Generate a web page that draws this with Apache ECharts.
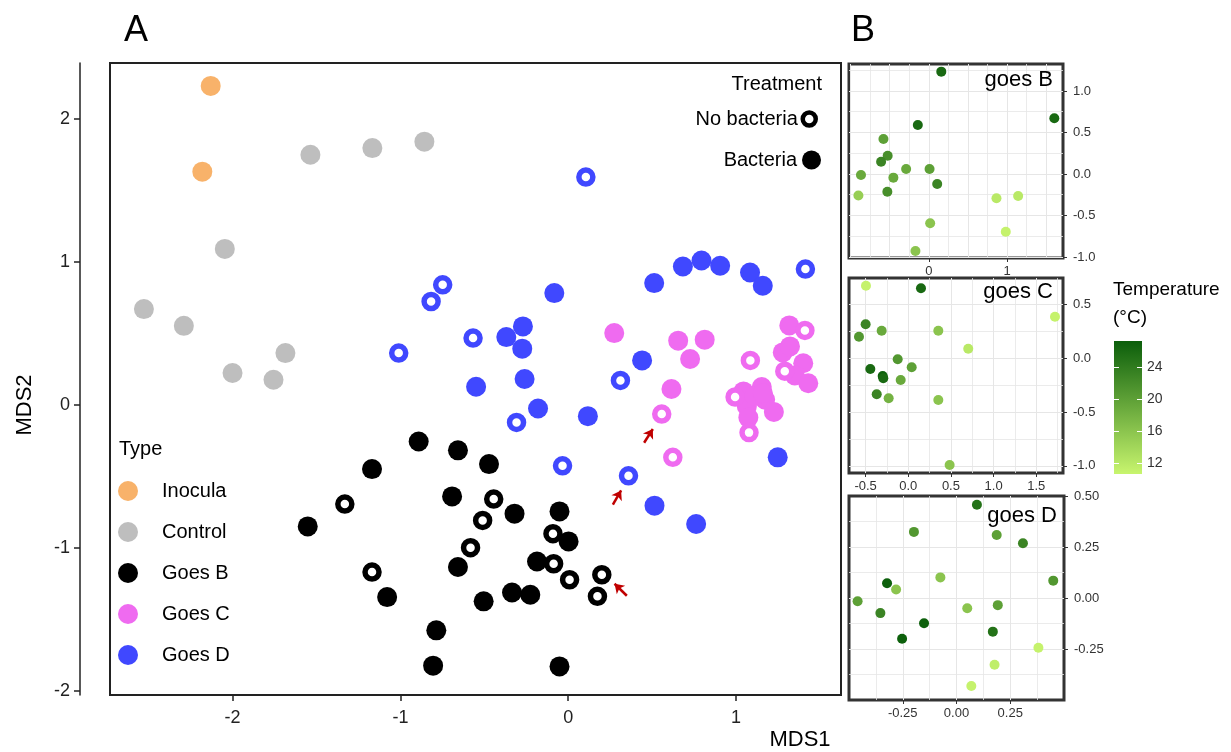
<!DOCTYPE html>
<html><head><meta charset="utf-8">
<script src="https://cdn.jsdelivr.net/npm/echarts@6/dist/echarts.min.js"></script>
<style>html,body{margin:0;padding:0;background:#fff}#chart{width:1231px;height:752px}</style>
</head><body><div id="chart"></div>
<script>
// ---------- Panel A data (MDS1, MDS2) ----------
const inocula = [[-2.13,2.23],[-2.18,1.63]];
const control = [[-1.536,1.748],[-1.167,1.795],[-0.857,1.84],[-2.046,1.09],[-2.528,0.669],[-2.29,0.552],[-1.685,0.361],[-2.0,0.222],[-1.756,0.175]];
const goesBFilled = [[-0.891,-0.257],[-0.657,-0.319],[-1.169,-0.45],[-0.692,-0.641],[-1.552,-0.851],[-1.079,-1.345],[-0.657,-1.135],[-0.786,-1.578],[-0.805,-1.825],[-0.472,-0.415],[-0.32,-0.762],[-0.052,-0.746],[0.002,-0.956],[-0.186,-1.096],[-0.335,-1.313],[-0.226,-1.329],[-0.504,-1.375],[-0.052,-1.83]];
const goesBOpen = [[-1.331,-0.695],[-1.169,-1.17],[-0.444,-0.66],[-0.51,-0.809],[-0.091,-0.902],[-0.582,-1.0],[-0.087,-1.112],[0.008,-1.224],[0.2,-1.189],[0.174,-1.34]];
const goesCFilled = [[0.274,0.501],[0.655,0.448],[0.813,0.455],[0.726,0.32],[0.615,0.11],[1.317,0.555],[1.278,0.366],[1.321,0.408],[1.4,0.29],[1.35,0.205],[1.43,0.15],[1.044,0.093],[1.153,0.124],[1.064,-0.012],[1.173,0.035],[1.225,-0.05],[1.073,-0.09],[1.11,0.06],[1.16,0.08]];
const goesCOpen = [[0.557,-0.065],[0.623,-0.368],[1.085,0.31],[1.41,0.52],[1.29,0.235],[0.994,0.054],[1.077,-0.195]];
const goesDFilled = [[-0.083,0.781],[-0.27,0.548],[-0.369,0.473],[-0.274,0.392],[-0.26,0.18],[-0.549,0.126],[-0.18,-0.026],[0.117,-0.08],[0.512,0.851],[0.683,0.967],[0.794,1.009],[0.905,0.972],[1.083,0.925],[1.159,0.832],[0.44,0.31],[1.248,-0.368],[0.514,-0.706],[0.762,-0.834]];
const goesDOpen = [[-0.748,0.839],[-0.817,0.722],[-1.01,0.361],[-0.567,0.466],[-0.308,-0.124],[0.105,1.592],[1.413,0.949],[0.311,0.17],[-0.034,-0.427],[0.359,-0.497]];
// red arrows: [x1, y1, x2, y2] in MDS units
const arrows = [[0.452,-0.266,0.504,-0.17],[0.266,-0.699,0.315,-0.599],[0.349,-1.336,0.276,-1.252]];
const typeNames = ['Inocula','Control','Goes B','Goes C','Goes D'];
const treatNames = ['No bacteria','Bacteria'];
const axisATicksX = [-2,-1,0,1];
const axisATicksY = [-2,-1,0,1,2];

// ---------- Panel B data (x, y, temperature °C) ----------
const subB = [[0.159,1.233,26],[1.603,0.671,26],[-0.141,0.59,26],[-0.58,0.422,20],[-0.526,0.22,22],[-0.61,0.148,23],[-0.29,0.06,19],[0.009,0.06,20],[-0.867,-0.012,19],[-0.453,-0.044,19],[0.107,-0.12,23],[-0.9,-0.26,15],[-0.53,-0.213,22],[0.864,-0.293,12],[1.141,-0.265,12],[0.017,-0.594,16],[0.983,-0.695,11],[-0.171,-0.928,16]];
const subC = [[-0.496,0.675,11],[0.149,0.651,26],[1.72,0.387,11],[-0.5,0.316,23],[-0.312,0.257,19],[-0.578,0.201,21],[0.352,0.257,16],[0.703,0.089,12],[-0.124,-0.009,21],[0.04,-0.084,20],[-0.445,-0.1,26],[-0.3,-0.165,27],[-0.293,-0.186,26],[-0.089,-0.202,19],[-0.37,-0.335,23],[-0.23,-0.372,18],[0.352,-0.388,16],[0.485,-0.993,16]];
const subD = [[0.095,0.457,25],[-0.198,0.324,21],[0.187,0.309,20],[0.309,0.268,23],[0.45,0.085,21],[-0.075,0.101,16],[-0.323,0.072,27],[-0.281,0.042,16],[-0.46,-0.016,20],[-0.354,-0.074,23],[0.05,-0.05,16],[0.192,-0.035,20],[-0.151,-0.124,27],[0.169,-0.165,25],[-0.253,-0.2,27],[0.381,-0.244,11],[0.177,-0.327,11.5],[0.069,-0.431,11]];
const subBTicksX = [0,1], subBTicksY = [-1,-0.5,0,0.5,1];
const subCTicksX = [-0.5,0,0.5,1,1.5], subCTicksY = [-1,-0.5,0,0.5];
const subDTicksX = [-0.25,0,0.25], subDTicksY = [-0.25,0,0.25,0.5];
const tempTicks = [12,16,20,24];
const tempRange = [10.7, 27.2];

// ---------- styles ----------
const FONT = '"Liberation Sans", Arial, sans-serif';
const COL = {'Inocula':'#F8B26A','Control':'#BEBEBE','Goes B':'#000000','Goes C':'#EF6BF0','Goes D':'#4048FF'};
const LOW = '#C8F56E', HIGH = '#0B5E0B';
const GRIDCOL = '#E6E6E6';

const chart = echarts.init(document.getElementById('chart'));

function fmt(v, d){ return d === 0 ? String(Math.round(v)) : v.toFixed(d); }
function visAxis(dim, gi, min, max, ticks, digits, pos){
  return {type:'value', gridIndex:gi, min, max, position:pos,
    axisLine:{show:false, onZero:false}, splitLine:{show:false},
    axisTick:{show:true, customValues:ticks, length:4, lineStyle:{color:'#333', width:1}},
    axisLabel:{customValues:ticks, formatter:v=>fmt(v,digits), fontSize:13, color:'#333', fontFamily:FONT, margin: dim==='x'?7:10}};
}
function gridAxis(gi, min, max, pos, opt){
  return Object.assign({type:'value', gridIndex:gi, min, max, position:pos,
    axisLine:{show:false, onZero:false}, axisTick:{show:false}, axisLabel:{show:false},
    splitLine:{show:true, showMinLine:false, showMaxLine:false, lineStyle:{color:GRIDCOL, width:1}},
    minorTick:{show:false, splitNumber:2},
    minorSplitLine:{show:true, lineStyle:{color:GRIDCOL, width:0.8}}}, opt);
}

const grids = [
  {left:110, top:63, width:731, height:632, show:true, borderColor:'#222', borderWidth:2, backgroundColor:'#fff'},
  {left:849, top:64, width:214, height:194, show:true, borderColor:'#333', borderWidth:3, backgroundColor:'#fff'},
  {left:849, top:278, width:214, height:195, show:true, borderColor:'#333', borderWidth:3, backgroundColor:'#fff'},
  {left:849, top:496, width:215, height:204, show:true, borderColor:'#333', borderWidth:3, backgroundColor:'#fff'},
  {left:1114, top:341, width:28, height:133, show:true, borderWidth:0,
   backgroundColor:new echarts.graphic.LinearGradient(0,0,0,1,[{offset:0,color:HIGH},{offset:1,color:LOW}])}
];

const xAxes = [
  {type:'value', gridIndex:0, min:-2.73, max:1.625, position:'bottom',
   axisLine:{show:false, onZero:false}, splitLine:{show:false},
   axisTick:{customValues:axisATicksX, length:6, lineStyle:{color:'#222', width:1.5}},
   axisLabel:{customValues:axisATicksX, fontSize:18, color:'#222', fontFamily:FONT, margin:14}},
  visAxis('x',1,-1.02,1.714,subBTicksX,0,'bottom'),
  gridAxis(1,-1.02,1.714,'top',{splitNumber:5}),
  visAxis('x',2,-0.695,1.814,subCTicksX,1,'bottom'),
  gridAxis(2,-0.695,1.814,'top',{splitNumber:5}),
  visAxis('x',3,-0.5,0.5,subDTicksX,2,'bottom'),
  gridAxis(3,-0.5,0.5,'top',{interval:0.25}),
  {type:'value', gridIndex:4, min:0, max:1, show:false}
];
const yAxes = [
  {type:'value', gridIndex:0, min:-2.03, max:2.39, position:'left', offset:30,
   axisLine:{show:true, onZero:false, lineStyle:{color:'#222', width:1.5}}, splitLine:{show:false},
   axisTick:{customValues:axisATicksY, length:6, lineStyle:{color:'#222', width:1.5}},
   axisLabel:{customValues:axisATicksY, fontSize:18, color:'#222', fontFamily:FONT, margin:10}},
  visAxis('y',1,-1.012,1.325,subBTicksY,1,'right'),
  gridAxis(1,-1.012,1.325,'left',{splitNumber:5}),
  visAxis('y',2,-1.067,0.747,subCTicksY,1,'right'),
  gridAxis(2,-1.067,0.747,'left',{splitNumber:4}),
  visAxis('y',3,-0.5,0.5,subDTicksY,2,'right'),
  gridAxis(3,-0.5,0.5,'left',{interval:0.25}),
  {type:'value', gridIndex:4, min:tempRange[0], max:tempRange[1], position:'right',
   axisLine:{show:false, onZero:false}, splitLine:{show:false},
   axisTick:{customValues:tempTicks, inside:true, length:5, lineStyle:{color:'#fff', width:1}},
   axisLabel:{customValues:tempTicks, fontSize:14, color:'#333', fontFamily:FONT, margin:5}},
  {type:'value', gridIndex:4, min:tempRange[0], max:tempRange[1], position:'left',
   axisLine:{show:false, onZero:false}, splitLine:{show:false}, axisLabel:{show:false},
   axisTick:{customValues:tempTicks, inside:true, length:5, lineStyle:{color:'#fff', width:1}}}
];

function filledSeries(name, data){
  return {type:'scatter', name, xAxisIndex:0, yAxisIndex:0, data, symbol:'circle', symbolSize:20,
    itemStyle:{color:COL[name], opacity:1}, emphasis:{disabled:true}};
}
function openSeries(name, data){
  return {type:'scatter', name, xAxisIndex:0, yAxisIndex:0, data, symbol:'circle', symbolSize:14,
    itemStyle:{color:'#fff', borderColor:COL[name], borderWidth:5.5, opacity:1}, emphasis:{disabled:true}};
}
function subSeries(name, xi, yi, data){
  return {type:'scatter', name, xAxisIndex:xi, yAxisIndex:yi, data, symbol:'circle', symbolSize:10,
    itemStyle:{opacity:1}, emphasis:{disabled:true}};
}

const series = [
  filledSeries('Inocula', inocula),
  filledSeries('Control', control),
  filledSeries('Goes B', goesBFilled),
  filledSeries('Goes C', goesCFilled),
  filledSeries('Goes D', goesDFilled),
  openSeries('Goes B', goesBOpen),
  openSeries('Goes C', goesCOpen),
  openSeries('Goes D', goesDOpen),
  {type:'scatter', name:treatNames[0], xAxisIndex:0, yAxisIndex:0, data:[], symbol:'circle',
   itemStyle:{color:'#fff', borderColor:'#000', borderWidth:4.5}},
  {type:'scatter', name:treatNames[1], xAxisIndex:0, yAxisIndex:0, data:[], symbol:'circle',
   itemStyle:{color:'#000', borderColor:'#000', borderWidth:0}},
  {type:'scatter', name:'arrows', xAxisIndex:0, yAxisIndex:0, data:[],
   markLine:{silent:true, symbol:['none','arrow'], symbolSize:9, animation:false,
     lineStyle:{color:'#C00000', width:2.5, type:'solid'}, label:{show:false}, emphasis:{disabled:true},
     data: arrows.map(a => [{coord:[a[0],a[1]]},{coord:[a[2],a[3]]}])}},
  subSeries('goes B', 1, 1, subB),
  subSeries('goes C', 3, 3, subC),
  subSeries('goes D', 5, 5, subD)
];

function txt(text, x, y, size, align, vAlign, extra){
  return Object.assign({type:'text', x, y, z:100, silent:true, style:{text, font: size+'px '+FONT, fill:'#000',
    textAlign:align, textVerticalAlign:vAlign, align:align, verticalAlign:vAlign}}, extra||{});
}

const option = {
  animation:false,
  backgroundColor:'#fff',
  grid: grids, xAxis: xAxes, yAxis: yAxes, series,
  visualMap:{type:'continuous', show:false, dimension:2, seriesIndex:[11,12,13],
    min:tempRange[0], max:tempRange[1], inRange:{color:[LOW, HIGH]}},
  legend:[
    {orient:'vertical', left:113, top:476, itemWidth:20, itemHeight:20, itemGap:21, selectedMode:false,
     icon:'circle', textStyle:{fontSize:20, color:'#000', fontFamily:FONT, padding:[0,0,0,19]},
     data: typeNames.map(n => ({name:n, icon:'circle', itemStyle:{color:COL[n], borderWidth:0}}))},
    {orient:'vertical', right:408, top:104, itemWidth:13, itemHeight:13, selectedMode:false, align:'right',
     textStyle:{fontSize:20, color:'#000', fontFamily:FONT},
     data:[{name:treatNames[0], icon:'circle', itemStyle:{color:'#fff', borderColor:'#000', borderWidth:4.5, opacity:1}}]},
    {orient:'vertical', right:405, top:145, itemWidth:19, itemHeight:19, selectedMode:false, align:'right',
     textStyle:{fontSize:20, color:'#000', fontFamily:FONT},
     data:[{name:treatNames[1], icon:'circle', itemStyle:{color:'#000', borderColor:'#000', borderWidth:0, opacity:1}}]}
  ],
  graphic:[
    txt('A', 124, 31, 36, 'left', 'middle'),
    txt('B', 851, 31, 36, 'left', 'middle'),
    txt('MDS1', 800, 740, 22, 'center', 'middle'),
    txt('MDS2', 25, 405, 22, 'center', 'middle', {rotation:Math.PI/2}),
    txt('Type', 119, 449, 20, 'left', 'middle'),
    txt('Treatment', 822, 84, 20, 'right', 'middle'),
    txt('goes B', 1053, 80, 22, 'right', 'middle'),
    txt('goes C', 1053, 292, 22, 'right', 'middle'),
    txt('goes D', 1057, 516, 22, 'right', 'middle'),
    txt('Temperature', 1113, 290, 19, 'left', 'middle'),
    txt('(°C)', 1113, 318, 19, 'left', 'middle')
  ]
};
chart.setOption(option);
</script>
</body></html>
